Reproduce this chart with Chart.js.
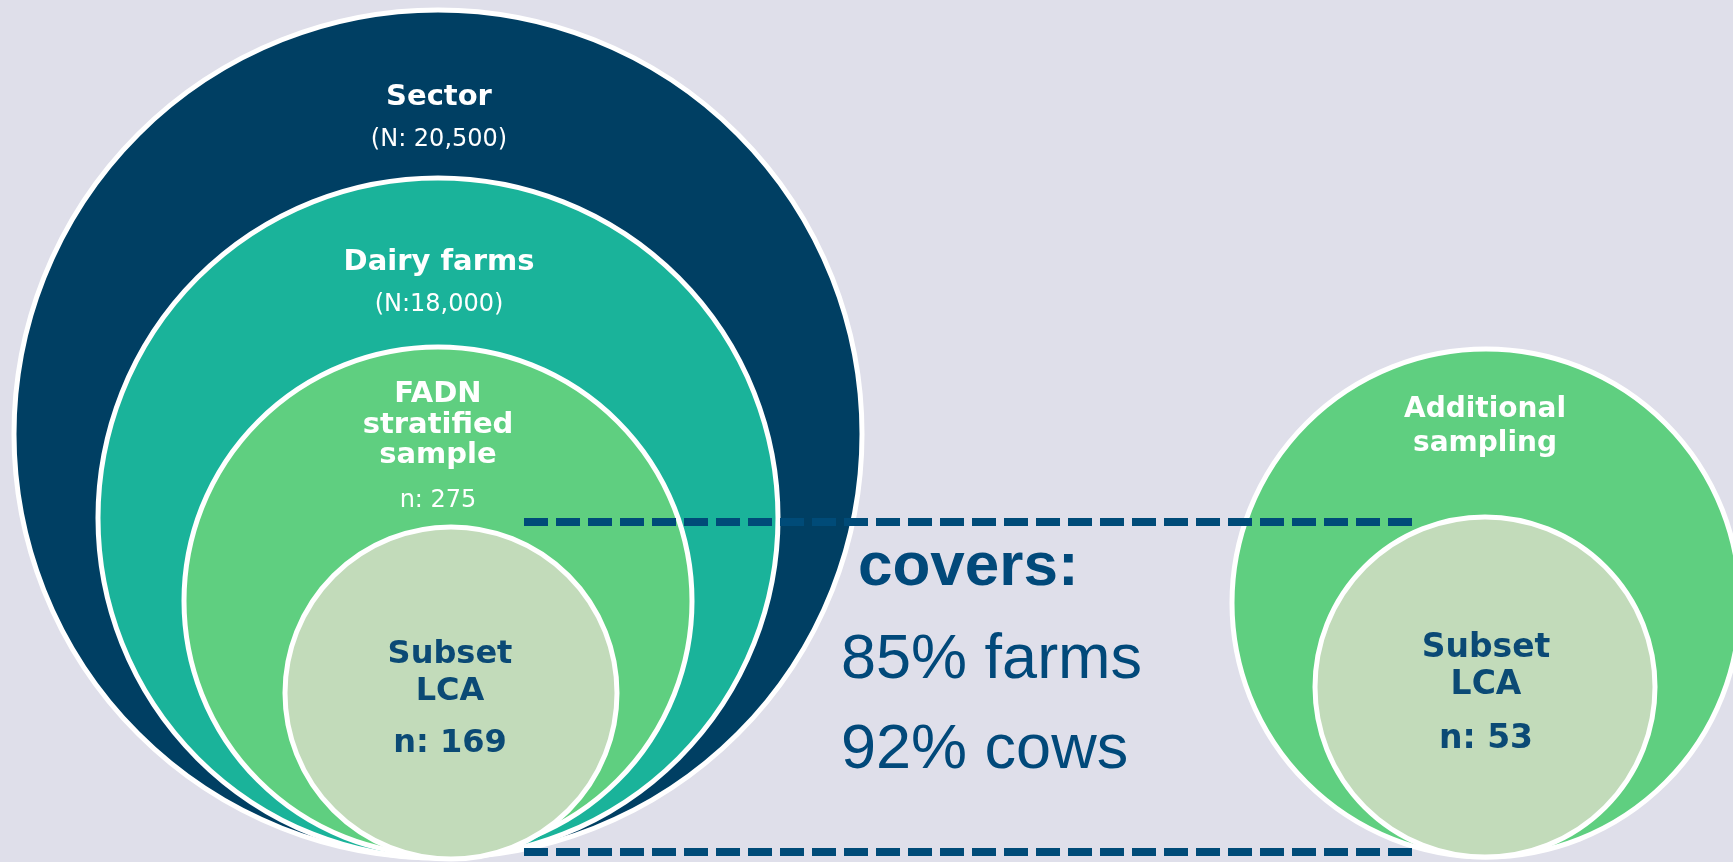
<!DOCTYPE html>
<html>
<head>
<meta charset="utf-8">
<title>Sampling circles</title>
<script src="https://cdn.jsdelivr.net/npm/chart.js@4"></script>
<style>
  html, body { margin: 0; padding: 0; background: #dfdfea; }
  #wrap { width: 1733px; height: 862px; position: relative; }
</style>
</head>
<body>
<div id="wrap"><canvas id="circles"></canvas></div>
<script>
// circles, largest first so the smaller ones sit on top
const groups = ['Sector', 'Dairy farms', 'FADN stratified sample', 'Subset LCA', 'Additional sampling', 'Subset LCA'];
const counts = ['(N: 20,500)', '(N:18,000)', 'n: 275', 'n: 169', '', 'n: 53'];
const centerX = [438, 438, 438, 451, 1486, 1485];
const centerY = [434, 518, 601, 693, 603, 687];
const radii = [424, 340, 254, 166, 254, 170];
const fills = ['#003f63', '#1ab39a', '#5fcf80', '#c2dbba', '#5fcf80', '#c2dbba'];

// the two dashed guide lines
const guideX = [524, 1412];
const guideTop = 522;
const guideBottom = 852;

const coverage = ['covers:', '85% farms', '92% cows'];

const white = '#ffffff';
const navy = '#0b4a75';
const bold = (s) => `bold ${s}px "DejaVu Sans", Verdana, sans-serif`;
const plain = (s) => `${s}px "DejaVu Sans", Verdana, sans-serif`;

const textLines = [
  { text: 'Sector', x: 439, y: 105, font: bold(29), color: white },
  { text: counts[0], x: 439, y: 146, font: plain(24), color: white },
  { text: 'Dairy farms', x: 439, y: 270, font: bold(29), color: white },
  { text: counts[1], x: 439, y: 311, font: plain(24), color: white },
  { text: 'FADN', x: 438, y: 402, font: bold(29), color: white },
  { text: 'stratified', x: 438, y: 433, font: bold(29), color: white },
  { text: 'sample', x: 438, y: 463, font: bold(29), color: white },
  { text: counts[2], x: 438, y: 507, font: plain(24), color: white },
  { text: 'Subset', x: 450, y: 663, font: bold(32), color: navy },
  { text: 'LCA', x: 450, y: 700, font: bold(32), color: navy },
  { text: counts[3], x: 450, y: 752, font: bold(32), color: navy },
  { text: 'Additional', x: 1485, y: 417, font: bold(28), color: white },
  { text: 'sampling', x: 1485, y: 451, font: bold(28), color: white },
  { text: 'Subset', x: 1486, y: 657, font: bold(33), color: navy },
  { text: 'LCA', x: 1486, y: 694, font: bold(33), color: navy },
  { text: counts[5], x: 1486, y: 748, font: bold(33), color: navy },
  { text: coverage[0], x: 858, y: 585, font: 'bold 62px "Liberation Sans", Arial, sans-serif', color: '#01497a', align: 'left' },
  { text: coverage[1], x: 841, y: 678, font: '63px "Liberation Sans", Arial, sans-serif', color: '#01497a', align: 'left' },
  { text: coverage[2], x: 841, y: 768, font: '63px "Liberation Sans", Arial, sans-serif', color: '#01497a', align: 'left' }
];

const textPlugin = {
  id: 'circleText',
  afterDatasetsDraw(chart) {
    const { ctx, scales: { x, y } } = chart;
    ctx.save();
    textLines.forEach(t => {
      ctx.font = t.font;
      ctx.fillStyle = t.color;
      ctx.textAlign = t.align || 'center';
      ctx.textBaseline = 'alphabetic';
      ctx.fillText(t.text, x.getPixelForValue(t.x), y.getPixelForValue(t.y));
    });
    ctx.restore();
  }
};

const dashed = (yv) => ({
  type: 'line',
  data: guideX.map(v => ({ x: v, y: yv })),
  borderColor: '#004b78',
  borderWidth: 8,
  borderDash: [24, 8],
  borderCapStyle: 'butt',
  pointRadius: 0,
  clip: false,
  order: 0
});

const chart = new Chart(document.getElementById('circles'), {
  type: 'bubble',
  data: {
    labels: groups,
    datasets: [
      dashed(guideTop),
      dashed(guideBottom),
      {
        type: 'bubble',
        label: 'groups',
        data: centerX.map((v, i) => ({ x: v, y: centerY[i], r: 1 })),
        backgroundColor: fills,
        borderColor: white,
        borderWidth: 5,
        clip: false,
        order: 1
      }
    ]
  },
  options: {
    responsive: true,
    maintainAspectRatio: false,
    animation: false,
    events: [],
    layout: { padding: 0, autoPadding: false },
    plugins: { legend: { display: false }, tooltip: { enabled: false } },
    scales: {
      x: { type: 'linear', min: 0, max: 1733, display: false },
      y: { type: 'linear', min: 0, max: 862, reverse: true, display: false }
    }
  },
  plugins: [textPlugin]
});

// radii are in x units; turn them into pixels with the x scale
const sx = chart.scales.x;
chart.data.datasets[2].data.forEach((p, i) => {
  p.r = sx.getPixelForValue(radii[i]) - sx.getPixelForValue(0);
});
chart.update();
</script>
</body>
</html>
